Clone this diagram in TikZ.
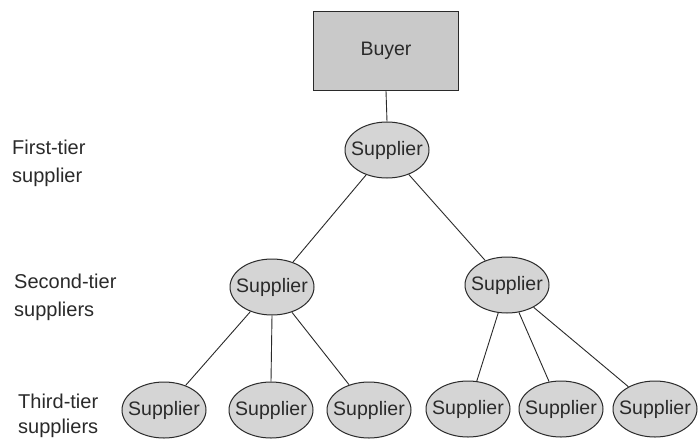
\documentclass[tikz,border=0pt]{standalone}
\usepackage{fontspec}
\setmainfont{Liberation Sans}
\usetikzlibrary{shapes.geometric}
\definecolor{boxgray}{HTML}{C9C9C9}
\definecolor{ellgray}{HTML}{D5D5D5}
\definecolor{inkgray}{HTML}{2A2A2A}
\begin{document}
\begin{tikzpicture}[x=1pt,y=-1pt,
  lbl/.style={anchor=base west,inner sep=0pt,font=\fontsize{20}{24}\selectfont,text=inkgray},
  sup/.style={ellipse,draw=inkgray,line width=1pt,fill=ellgray,minimum width=84pt,minimum height=56pt,inner sep=0pt,font=\fontsize{19.5}{22}\selectfont,text=inkgray},
  link/.style={draw=inkgray,line width=0.9pt}]
\useasboundingbox (0,0) rectangle (699,440);
\fill[white] (0,0) rectangle (699,440);
% Buyer
\node[draw=inkgray,line width=1pt,fill=boxgray,minimum width=145pt,minimum height=79pt,inner sep=0pt,font=\fontsize{19.5}{22}\selectfont,text=inkgray] (buyer) at (386,51) {Buyer};
% suppliers
\node[sup] (s1) at (387,150) {\makebox[0pt]{Supplier}};
\node[sup] (s2a) at (272,287) {\makebox[0pt]{Supplier}};
\node[sup] (s2b) at (507,285) {\makebox[0pt]{Supplier}};
\node[sup] (t1) at (164,410) {\makebox[0pt]{Supplier}};
\node[sup] (t2) at (271,410) {\makebox[0pt]{Supplier}};
\node[sup] (t3) at (369,410) {\makebox[0pt]{Supplier}};
\node[sup] (t4) at (468,409) {\makebox[0pt]{Supplier}};
\node[sup] (t5) at (561,409) {\makebox[0pt]{Supplier}};
\node[sup] (t6) at (655,409) {\makebox[0pt]{Supplier}};
% connectors
\draw[link] (buyer.south) -- (s1.north);
\draw[link] (s1) -- (s2a);
\draw[link] (s1) -- (s2b);
\draw[link] (s2a) -- (t1);
\draw[link] (s2a.south) -- (t2.north);
\draw[link] (s2a) -- (t3);
\draw[link] (s2b) -- (t4);
\draw[link] (s2b) -- (t5);
\draw[link] (s2b) -- (t6);
% tier labels
\node[lbl] (l1a) at (12,154) {First-tier};
\node[lbl] (l1b) at (12,182) {supplier};
\node[lbl] (l2a) at (14,288) {Second-tier};
\node[lbl] (l2b) at (14,316) {suppliers};
\node[lbl] (l3a) at (18,408) {Third-tier};
\node[lbl] (l3b) at (18,433) {suppliers};
\end{tikzpicture}
\end{document}
